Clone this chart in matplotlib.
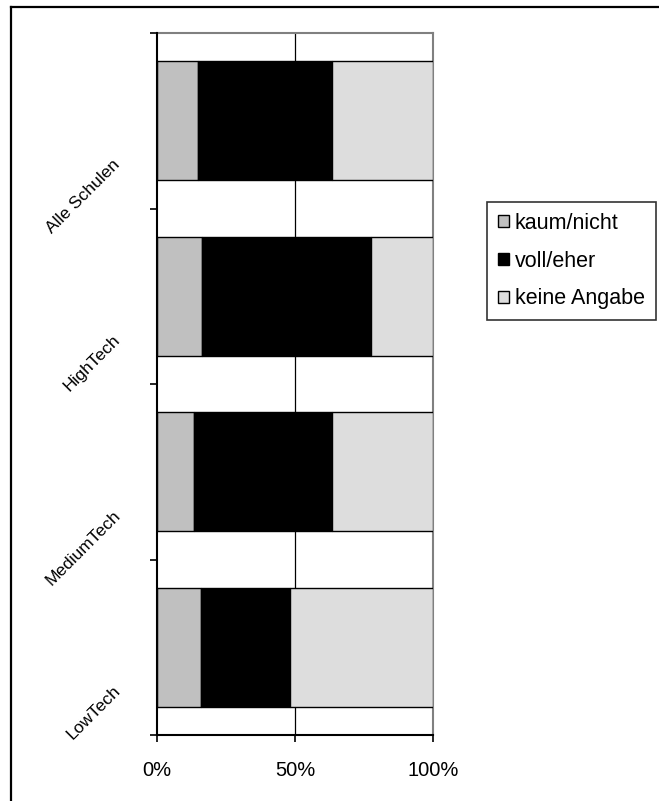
import matplotlib
matplotlib.use("Agg")
import matplotlib.pyplot as plt
from matplotlib.patches import Patch
from matplotlib.lines import Line2D
import numpy as np

plt.rcParams['font.family'] = ['Liberation Sans', 'DejaVu Sans']

categories = ["Alle Schulen", "HighTech", "MediumTech", "LowTech"]
series_names = ["kaum/nicht", "voll/eher", "keine Angabe"]
kaum = [14.9, 16.3, 13.4, 15.9]
voll = [48.5, 61.2, 50.0, 32.3]
keine = [36.6, 22.5, 36.6, 51.8]
colors = ["#C0C0C0", "#000000", "#DDDDDD"]
xtick_vals = [0, 50, 100]
xtick_labels = ["0%", "50%", "100%"]

W, H = 659, 801
fig = plt.figure(figsize=(W / 100, H / 100), dpi=100)
ax = fig.add_axes([157 / W, 1 - 735 / H, 276 / W, 702 / H])

ypos = np.arange(len(categories))
left = np.zeros(len(categories))
for vals, col, name in zip([kaum, voll, keine], colors, series_names):
    ax.barh(ypos, vals, left=left, height=0.68, color=col, edgecolor="black",
            linewidth=1.0, zorder=3, label=name)
    left = left + np.array(vals)

ax.set_xlim(0, 100)
ax.set_ylim(len(categories) - 0.5, -0.5)

ax.axvline(50, color="black", linewidth=0.9, zorder=1)

ax.set_xticks(xtick_vals)
ax.set_xticklabels(xtick_labels, fontsize=14.5)
ax.set_yticks(np.arange(-0.5, len(categories), 1.0))
ax.set_yticklabels([])
ax.tick_params(axis="both", direction="out", length=5, width=1.2, color="black")
ax.tick_params(axis="x", pad=14)

for s in ["top", "right"]:
    ax.spines[s].set_color("#808080")
    ax.spines[s].set_linewidth(1.5)
for s in ["left", "bottom"]:
    ax.spines[s].set_color("black")
    ax.spines[s].set_linewidth(1.5)
    ax.spines[s].set_zorder(5)

for i, cat in enumerate(categories):
    ax.annotate(cat, xy=(0, i), xycoords="data",
                xytext=(-26, -32), textcoords="offset points",
                rotation=45, rotation_mode="anchor", ha="right", va="baseline",
                fontsize=12.5, annotation_clip=False)

handles = [Patch(facecolor=c, edgecolor="black", linewidth=1.0) for c in colors]
leg = fig.legend(handles, series_names, loc="upper left",
                 bbox_to_anchor=(487 / W, 1 - 202 / H), bbox_transform=fig.transFigure,
                 fontsize=15.5, frameon=True, fancybox=False, edgecolor="black",
                 handlelength=0.5, handleheight=0.5, handletextpad=0.3,
                 labelspacing=0.78, borderpad=0.5, borderaxespad=0)
leg.get_frame().set_linewidth(1.2)

fig.add_artist(Line2D([11 / W, 1], [1 - 7 / H, 1 - 7 / H], transform=fig.transFigure,
                      color="black", linewidth=1.6))
fig.add_artist(Line2D([11 / W, 11 / W], [0, 1 - 7 / H], transform=fig.transFigure,
                      color="black", linewidth=1.6))

fig.savefig("out.png", dpi=100, facecolor="white")
